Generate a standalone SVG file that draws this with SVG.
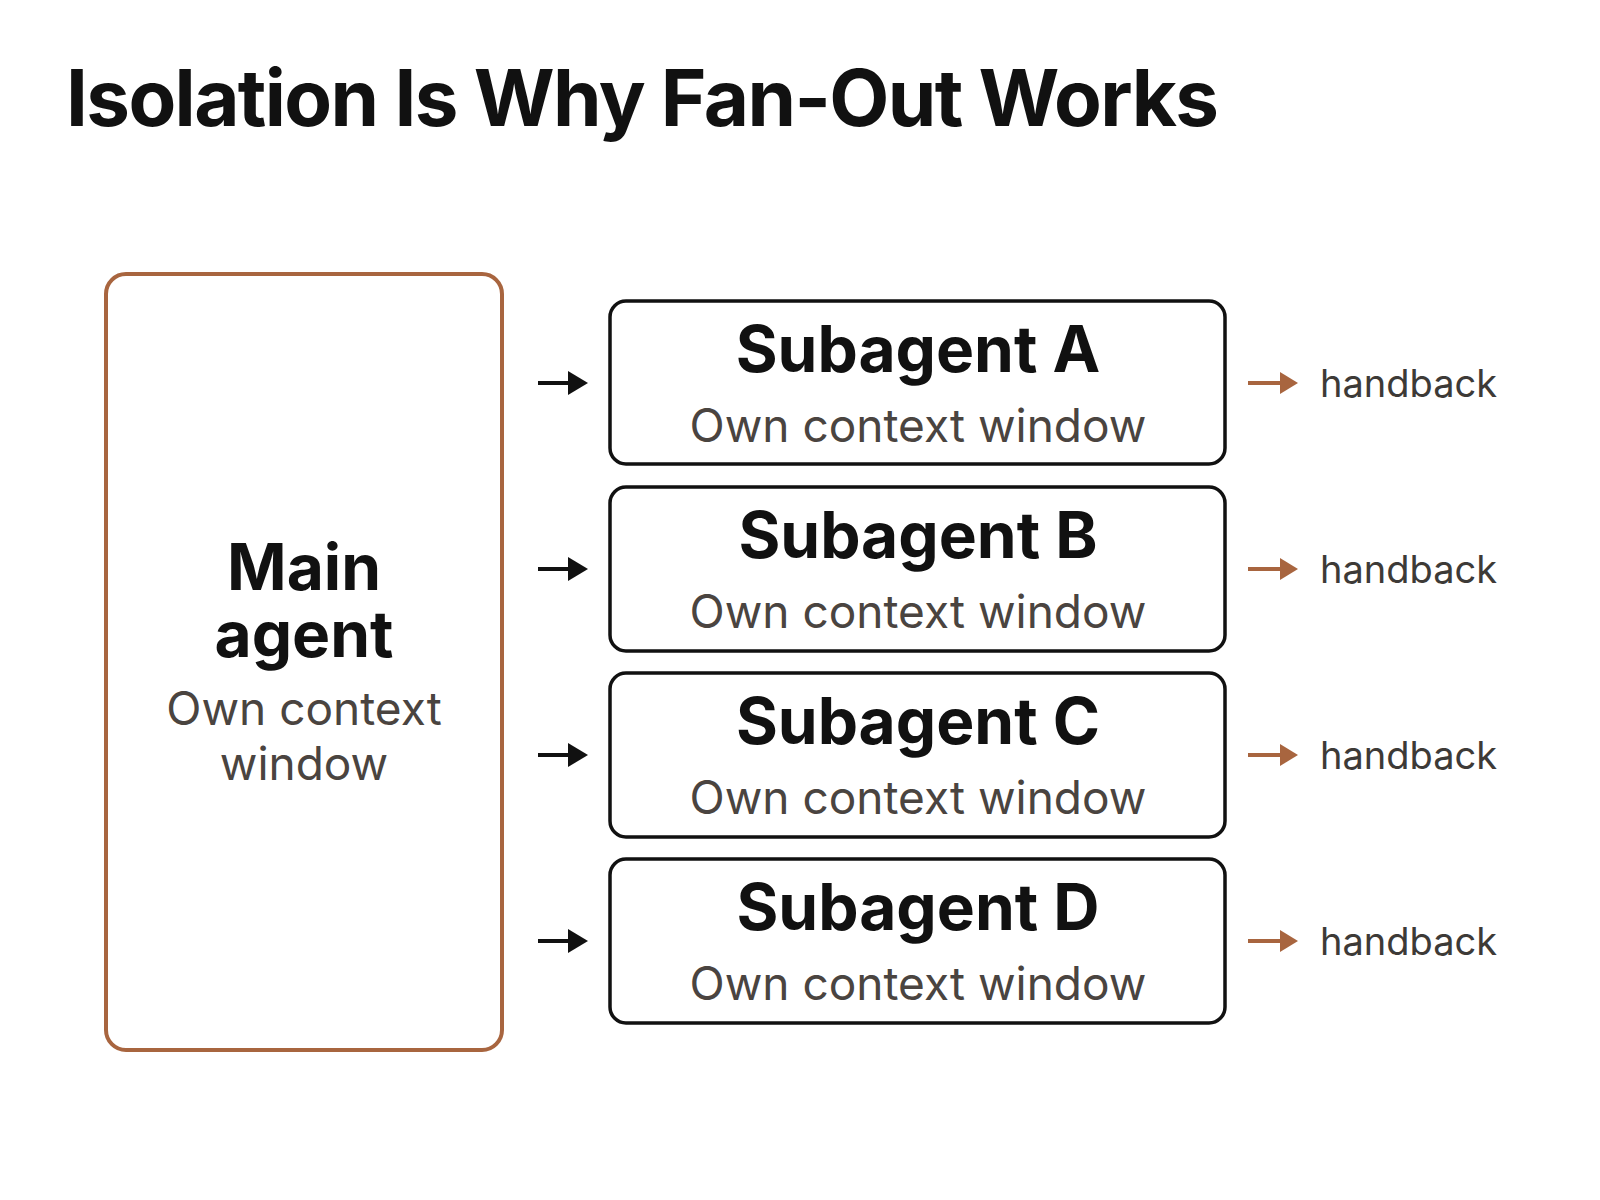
<svg xmlns="http://www.w3.org/2000/svg" width="1600" height="1200" viewBox="0 0 1600 1200">
<style>
.title{font-family:Inter,"Liberation Sans",sans-serif;font-weight:700;font-size:78px;fill:#111;letter-spacing:-1.6px}
.head{font-family:Inter,"Liberation Sans",sans-serif;font-weight:700;font-size:64px;fill:#111;text-anchor:middle}
.sub{font-family:Inter,"Liberation Sans",sans-serif;font-weight:400;font-size:46px;fill:#4a4440;text-anchor:middle}
.hb{font-family:Inter,"Liberation Sans",sans-serif;font-weight:400;font-size:38px;fill:#3d3a37}
.box{fill:#fff;stroke:#111;stroke-width:3.5}
.main{fill:#fff;stroke:#A8653F;stroke-width:4}
.ka{stroke:#111;stroke-width:4}
.oa{stroke:#A8653F;stroke-width:4}
</style>
<defs>
<marker id="mk" viewBox="0 0 20 24" refX="0" refY="12" markerWidth="20" markerHeight="24" markerUnits="userSpaceOnUse" orient="auto"><path d="M0,0 L20,12 L0,24 Z" fill="#111"/></marker>
<marker id="mo" viewBox="0 0 18 22" refX="0" refY="11" markerWidth="18" markerHeight="22" markerUnits="userSpaceOnUse" orient="auto"><path d="M0,0 L18,11 L0,22 Z" fill="#A8653F"/></marker>
</defs>
<rect width="1600" height="1200" fill="#fff"/>
<text id="title" class="title" x="66" y="126">Isolation Is Why Fan-Out Works</text>

<g id="main-agent">
<rect class="main" x="106" y="274" width="396" height="776" rx="20"/>
<text class="head" x="304" y="590"><tspan x="304" y="590">Main</tspan><tspan x="304" y="657">agent</tspan></text>
<text class="sub" x="304" y="725"><tspan x="304" y="725">Own context</tspan><tspan x="304" y="780">window</tspan></text>
</g>

<g id="subagent-a">
<rect class="box" x="610" y="301" width="615" height="163" rx="16"/>
<text class="head" x="918" y="372">Subagent A</text>
<text class="sub" x="918" y="442">Own context window</text>
</g>
<g id="subagent-b">
<rect class="box" x="610" y="487" width="615" height="164" rx="16"/>
<text class="head" x="918" y="558">Subagent B</text>
<text class="sub" x="918" y="628">Own context window</text>
</g>
<g id="subagent-c">
<rect class="box" x="610" y="673" width="615" height="164" rx="16"/>
<text class="head" x="918" y="744">Subagent C</text>
<text class="sub" x="918" y="814">Own context window</text>
</g>
<g id="subagent-d">
<rect class="box" x="610" y="859" width="615" height="164" rx="16"/>
<text class="head" x="918" y="930">Subagent D</text>
<text class="sub" x="918" y="1000">Own context window</text>
</g>

<g id="connectors">
<line class="ka" x1="538" y1="383" x2="568" y2="383" marker-end="url(#mk)"/>
<line class="ka" x1="538" y1="569" x2="568" y2="569" marker-end="url(#mk)"/>
<line class="ka" x1="538" y1="755" x2="568" y2="755" marker-end="url(#mk)"/>
<line class="ka" x1="538" y1="941" x2="568" y2="941" marker-end="url(#mk)"/>
<line class="oa" x1="1248" y1="383" x2="1280" y2="383" marker-end="url(#mo)"/>
<line class="oa" x1="1248" y1="569" x2="1280" y2="569" marker-end="url(#mo)"/>
<line class="oa" x1="1248" y1="755" x2="1280" y2="755" marker-end="url(#mo)"/>
<line class="oa" x1="1248" y1="941" x2="1280" y2="941" marker-end="url(#mo)"/>
</g>

<g id="handback-labels">
<text class="hb" x="1320" y="397">handback</text>
<text class="hb" x="1320" y="583">handback</text>
<text class="hb" x="1320" y="769">handback</text>
<text class="hb" x="1320" y="955">handback</text>
</g>
</svg>
